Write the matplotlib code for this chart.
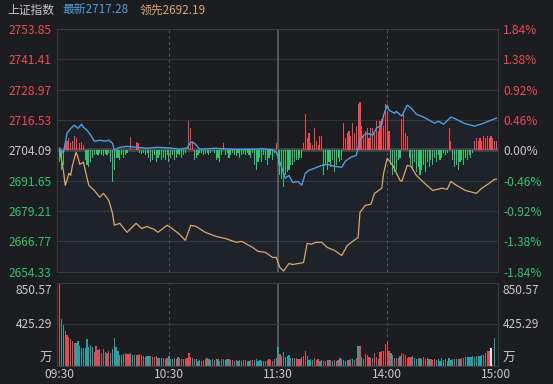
import matplotlib
matplotlib.use('Agg')
import matplotlib.pyplot as plt
import numpy as np

# ---------------- data ----------------
prev_close = 2704.09
price_ticks = [2753.85, 2741.41, 2728.97, 2716.53, 2704.09, 2691.65, 2679.21, 2666.77, 2654.33]
pct_labels = ['1.84%', '1.38%', '0.92%', '0.46%', '0.00%', '-0.46%', '-0.92%', '-1.38%', '-1.84%']
time_ticks = [0, 60, 120, 180, 240]
time_labels = ['09:30', '10:30', '11:30', '14:00', '15:00']
vol_max = 850.57
vol_mid = 425.29

blue_t = [0,2,4,6,8,10,12,13,15,17,19,22,25,27,29,30,33,37,42,48,54,61,66,70,72,74,77,85,95,105,
          112,117,119,121,122,124,126,128,131,133,135,137,140,144,147,151,155,157,160,163,165,167,169,172,174,177,178,180,181,184,
          185,188,191,193,196,200,206,208,211,215,218,222,228,233,237,240]
blue_v = [2705.0,2702.9,2711.1,2713.0,2714.4,2713.1,2714.8,2713.5,2712.3,2710.3,2707.8,2708.2,2707.8,2708.2,2707.0,2704.1,2705.3,2705.7,2705.3,2704.9,
          2705.3,2705.0,2704.5,2705.0,2707.4,2707.0,2704.5,2704.9,2704.5,2704.5,2704.7,2704.3,2703.3,2699.2,2697.0,2692.6,2693.8,2690.9,2691.3,2689.7,
          2694.6,2695.9,2696.7,2697.9,2698.3,2697.5,2697.1,2699.6,2701.2,2702.0,2708.2,2710.3,2711.1,2710.3,2713.1,2714.4,2718.5,2722.6,2720.5,2719.3,
          2720.0,2718.1,2722.6,2721.5,2718.9,2717.7,2715.2,2716.0,2714.8,2717.7,2716.8,2715.2,2714.0,2715.2,2716.4,2717.28]

orange_t = [0,2,3,4,5,6,7,9,10,11,13,14,16,19,22,24,27,29,30,33,37,42,45,48,52,54,59,61,66,69,
            72,75,80,86,91,97,100,106,109,113,117,119,121,123,126,128,131,134,136,138,141,144,147,151,155,158,161,164,165,168,
            171,173,177,178,180,183,187,188,191,193,196,200,205,210,213,215,218,223,229,232,236,239,240]
orange_v = [2704.09,2695.9,2689.7,2691.75,2694.6,2693.8,2697.9,2703.3,2701.2,2698.3,2699.2,2695.9,2689.7,2687.6,2684.8,2686.4,2683.5,2678.2,2673.3,2674.1,
            2670.4,2674.1,2672.0,2672.8,2671.6,2670.4,2673.3,2672.4,2669.5,2667.1,2673.3,2672.8,2670.4,2668.7,2667.9,2666.3,2666.7,2664.2,2662.6,2662.2,
            2660.1,2660.1,2656.0,2654.5,2657.6,2657.2,2657.6,2658.0,2665.9,2665.5,2666.3,2666.3,2664.2,2663.0,2660.9,2665.0,2666.7,2668.3,2678.6,2681.5,
            2681.9,2686.4,2688.5,2694.6,2700.8,2697.9,2691.75,2691.3,2697.9,2697.5,2693.8,2690.9,2687.6,2688.5,2688.1,2691.3,2689.7,2687.6,2686.4,2688.5,
            2690.5,2692.2,2692.19]

# buy/sell strength bars (points, + red / - green), one per minute
strength = [-5,-8,-6, 3,4,5,3,4,6,5, 0, 3,3.5,2, -4,-6,-7,-5,-3,-2,
            -1.5,-2,-1,-2,-2.5,-1.5,-2,-1, -5,-13,-8,-3, -3,-4,-2,-3,-2,-1,
            0,5.5,0,0,3.5,3, -1,-1.5,-1,-2,-1, -3,-5,-4,-2,-5,-3,-2,-4,
            -3,-4,-2,-5,-3,-2,-4,-3,-1.5,-2,-3,-2, -1,0,12,9,4, -4,-3,-2,-1,
            -1,-2,-1.5,-1,-2,-1,-0.5,-1, -4,-3,-5,-2, 3,
            -2,-1,-3,-2,-1,-2,-2.5,-1,-3,-2,-1.5,-2,-1,-2,-3,-1, -6,-8,-5,
            -3,-5,-2,-4,-6,-3,-2,-4,-1, 3, -6,-10,-12,-15,-10,-9,-8,-6,
            -6,-5,-4,-4,-3,-3, 3,15,5,7,3,2,9,4,2,6,6,
            -10,-6,-8,-5,-7,-4,-9,-6,-3,-5,-4,
            11,5,7,8,6,11,7,10,19,20,10,6,8,9,5,9,9,7,12,8,12,13,10,19, 16,8,
            -6,-10,-9,-8,-4,-3, 13,15,7,6,
            -3,-6,-8,-5,-9,-7,-10,-8,-6,-9,-5,-7,-4,-6,-3,-5,-2,-4,-3,-1,-2,-1,
            9,4, -4,-7,-6,-8,-5,-4,-6,-3,-4,-2,-3,-1,
            4,5,4,5,4,6,5,6,5,6,5,4,4]

auction_volume = 300
volume = [850.57,476,418,360,316,292,272,258,238,231,255,204,184,184,184,275,197,211,197,146,
          204,163,177,136,170,143,129,153,136,173,282,197,153,112,112,122,129,122,122,129,
          112,109,116,116,126,116,99,95,102,99,102,88,95,102,82,82,78,82,75,85,
          102,75,71,78,68,88,82,75,71,75,82,133,95,78,68,75,48,61,54,61,
          68,78,68,61,68,61,68,71,54,68,68,58,68,71,61,65,51,58,54,61,
          54,61,61,51,54,61,61,61,68,54,61,54,54,54,61,75,61,54,75,82,
          197,
          122,102,146,88,102,109,82,82,82,82,68,75,88,102,156,102,61,68,61,82,
          61,68,54,61,54,54,61,61,61,54,61,48,61,82,68,61,48,61,61,68,
          68,61,82,204,204,95,75,122,109,95,82,82,136,95,68,146,153,153,224,245,
          156,129,116,82,82,82,102,129,122,109,82,95,95,105,82,75,71,82,75,88,
          75,82,75,75,61,75,61,75,54,82,61,75,54,82,61,75,75,75,75,75,
          82,82,88,95,88,95,102,95,102,102,102,112,116,129,150,156,184,10,285]
volume_dir = ("rggrrrrrrggggggggggrrrgrrgrrgggggrggrrrggrgrrrgrggrrrgrggrgrgg"
              "grrgrrgrrrrgrgggrrgrggrgrggrgggrgrgrgggrgrgrrgggggrgrrrrgrgrrg"
              "gggrggrrrgrrggggrrrggrrgrggrgrgrgggrggrrgrggrrrgrrrgrrrrrrgrgrr"
              "grrrrrrgggrggrrrgrrrggggggrgggrgrgrrggggggggggrgrrwrgrrgrgrrr")

# ---------------- style ----------------
BG = '#1c1d21'
GRID = '#34353a'
RED = '#ee4a50'
GREEN = '#2fc46f'
BLUE = '#4e9de0'
ORANGE = '#dca86a'
TEAL = '#26a2a6'
VRED = '#e04a52'
GRAYTXT = '#c8c8c8'

plt.rcParams['font.family'] = ['Noto Sans CJK SC', 'DejaVu Sans']

W, H = 553, 384
fig = plt.figure(figsize=(W / 100, H / 100), dpi=100, facecolor=BG)

L, R = 57, 497.5
ax = fig.add_axes([L / W, 1 - 271.5 / H, (R - L) / W, (271.5 - 29) / H], facecolor=BG)
axv = fig.add_axes([L / W, 1 - 366 / H, (R - L) / W, (366 - 282.5) / H], facecolor=BG)

xmin, xmax = -1.5, 240.6
for a in (ax, axv):
    a.set_xlim(xmin, xmax)
    for s in a.spines.values():
        s.set_color('#3a3b40')
        s.set_linewidth(0.8)

# ---- main panel ----
ax.set_ylim(price_ticks[-1], price_ticks[0])
for p in price_ticks:
    ax.axhline(p, color=GRID, lw=0.8, zorder=0)
for t in (60, 180):
    ax.axvline(t, color='#55565c', lw=0.7, ls=(0, (3, 3)), zorder=0)
    axv.axvline(t, color='#55565c', lw=0.7, ls=(0, (3, 3)), zorder=0)
ax.axvline(120, color='#606166', lw=1.2, zorder=0)
axv.axvline(120, color='#606166', lw=1.2, zorder=0)

ax.fill_between(blue_t, blue_v, price_ticks[-1], color='#3a6ea8', alpha=0.07, lw=0, zorder=0.5)
ax.axhline(prev_close, color='#46474c', lw=2.6, zorder=1)

s = np.array(strength, dtype=float)
st = np.arange(len(s))
ax.bar(st, s, bottom=prev_close, width=0.62, color=[RED if v > 0 else GREEN for v in s], lw=0, zorder=2)

ax.plot(orange_t, orange_v, color=ORANGE, lw=0.9, zorder=3)
ax.plot(blue_t, blue_v, color=BLUE, lw=1.0, zorder=3)

ax.set_yticks(price_ticks)
ax.set_yticklabels([f'{p:.2f}' for p in price_ticks])
ax.set_xticks([])
ax.tick_params(axis='y', length=0, pad=4, labelsize=8.6)
cols = [RED] * 4 + [GRAYTXT] + [GREEN] * 4
for lab, c in zip(ax.get_yticklabels(), cols):
    lab.set_color(c)

ax2 = ax.twinx()
ax2.set_ylim(ax.get_ylim())
ax2.set_yticks(price_ticks)
ax2.set_yticklabels(pct_labels)
ax2.tick_params(axis='y', length=0, pad=4, labelsize=8.6)
for lab, c in zip(ax2.get_yticklabels(), cols):
    lab.set_color(c)
for sp in ax2.spines.values():
    sp.set_visible(False)

# ---- volume panel ----
axv.set_ylim(0, vol_max)
axv.axhline(vol_mid, color=GRID, lw=0.8, zorder=0)
vol = np.array(volume, dtype=float)
vt = np.arange(len(vol))
cmap = {'r': VRED, 'g': TEAL, 'w': '#e8e8e8'}
vcols = [cmap.get(volume_dir[i], TEAL) if i < len(volume_dir) else TEAL for i in range(len(vol))]
axv.bar(vt, vol, width=0.7, color=vcols, lw=0, zorder=2)
axv.bar([-1], [auction_volume], width=0.6, color='#e8e8e8', lw=0, zorder=2)

axv.set_yticks([])
axv.set_xticks(time_ticks)
axv.set_xticklabels(time_labels)
axv.tick_params(axis='x', length=0, pad=1.5, labelsize=8.6, colors=GRAYTXT)

tr = axv.get_yaxis_transform()
for xpos, ha in ((-0.012, 'right'), (1.012, 'left')):
    axv.text(xpos, vol_max * 0.985, f'{vol_max:.2f}', transform=tr, ha=ha, va='top', color=GRAYTXT, fontsize=8.6)
    axv.text(xpos, vol_mid, f'{vol_mid:.2f}', transform=tr, ha=ha, va='center', color=GRAYTXT, fontsize=8.6)
    axv.text(xpos, vol_max * 0.095, '万', transform=tr, ha=ha, va='center', color=GRAYTXT, fontsize=9)

# ---- header ----
fig.text(7 / W, 1 - 10 / H, '上证指数', color=GRAYTXT, fontsize=8.5, va='center', ha='left')
fig.text(62 / W, 1 - 10 / H, f'最新{blue_v[-1]:.2f}', color=BLUE, fontsize=8.5, va='center', ha='left')
fig.text(140 / W, 1 - 10 / H, f'领先{orange_v[-1]:.2f}', color=ORANGE, fontsize=8.5, va='center', ha='left')

fig.savefig('out.png', dpi=100, facecolor=BG)
